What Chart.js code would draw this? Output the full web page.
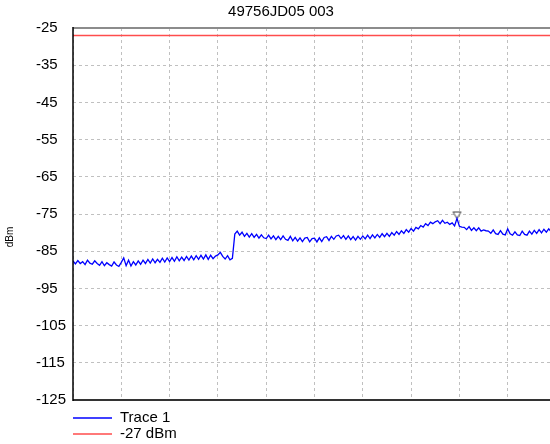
<!DOCTYPE html>
<html>
<head>
<meta charset="utf-8">
<title>49756JD05 003</title>
<script src="https://cdn.jsdelivr.net/npm/chart.js@4/dist/chart.umd.min.js"></script>
<style>
  html, body { margin: 0; padding: 0; background: #fff; overflow: hidden; }
  #wrap { width: 565px; height: 444px; }
</style>
</head>
<body>
<div id="wrap"><canvas id="chart" width="565" height="444"></canvas></div>
<script>
const chartTitle = '49756JD05 003'
const yLabel = 'dBm'
const yMin = -125
const yMax = -25
const yStep = 10
// x axis: 10 divisions, no frequency labels shown on the plot
const xMax = 1000
const xStep = 100
const traceStep = 5

// Trace 1 levels (dBm), one every 5 x units
const trace = [
  -87.6, -88.4, -87.5, -88.3, -87.8, -88.6, -87.4, -88.2, -88.5, -87.6,
  -88.3, -88.8, -87.8, -88.9, -88.1, -88.6, -89.0, -87.9, -88.7, -89.1,
  -88.0, -86.8, -88.9, -87.4, -89.0, -87.8, -88.7, -87.6, -88.5, -87.4,
  -88.3, -87.2, -88.2, -87.1, -88.1, -87.2, -88.0, -86.9, -87.9, -86.8,
  -87.8, -86.7, -87.7, -86.5, -87.6, -86.6, -87.5, -86.4, -87.4, -86.3,
  -87.3, -86.2, -87.2, -86.1, -87.1, -86.0, -87.2, -86.1, -87.0, -86.3,
  -86.0, -85.3, -86.4, -87.1, -86.2, -87.3, -86.9, -80.4, -79.6, -80.7,
  -79.9, -81.0, -80.2, -81.2, -80.3, -81.3, -80.5, -81.5, -80.6, -81.4,
  -81.6, -80.7, -81.7, -80.9, -81.9, -81.0, -81.9, -80.9, -81.8, -82.1,
  -81.0, -82.2, -81.3, -82.3, -81.4, -82.4, -81.5, -81.3, -82.5, -81.6,
  -81.5, -82.5, -81.4, -82.4, -81.3, -81.1, -82.1, -81.0, -81.8, -80.9,
  -80.7, -81.6, -80.8, -81.8, -80.9, -81.9, -81.1, -82.0, -81.0, -81.8,
  -80.9, -81.7, -80.7, -81.6, -80.6, -81.4, -80.5, -81.3, -80.3, -81.1,
  -80.2, -81.0, -80.0, -80.7, -79.7, -80.5, -79.5, -80.2, -79.2, -79.9,
  -78.9, -79.6, -78.6, -79.0, -78.1, -78.5, -77.6, -78.1, -77.2, -77.6,
  -77.1, -76.8, -77.6, -76.7, -77.5, -77.2, -77.8, -77.4, -78.2, -76.2,
  -78.3, -78.5, -78.6, -79.2, -78.4, -79.4, -78.7, -79.5, -78.7, -79.6,
  -79.3, -79.5, -79.6, -80.2, -79.3, -80.3, -80.5, -79.5, -80.4, -80.6,
  -79.0, -80.3, -80.7, -79.8, -80.6, -80.8, -79.6, -80.5, -80.7, -79.6,
  -80.4, -79.4, -80.2, -79.2, -80.1, -79.1, -79.9, -79.0, -79.8, -79.1,
  -79.6
]
const limitLevel = -27
const markerIndex = 159

const seriesLabels = ['Trace 1', '-27 dBm']

Chart.defaults.font.family = '"Liberation Sans", Arial, sans-serif'
Chart.defaults.color = '#000'

// hollow down-pointing marker; tip sits at the centre of the image
const markerImg = document.createElement('canvas')
markerImg.width = 11
markerImg.height = 16
const mctx = markerImg.getContext('2d')
mctx.strokeStyle = '#404040'
mctx.lineWidth = 1
mctx.beginPath()
mctx.moveTo(1.5, 1.5)
mctx.lineTo(9.5, 1.5)
mctx.lineTo(5.5, 8)
mctx.closePath()
mctx.fillStyle = '#fff'
mctx.fill()
mctx.stroke()

const framePlugin = {
  id: 'frame',
  afterDatasetsDraw(chart) {
    const { ctx, chartArea: a } = chart
    ctx.save()
    ctx.lineWidth = 2
    ctx.strokeStyle = '#8c8c8c'
    ctx.beginPath(); ctx.moveTo(a.left, a.top); ctx.lineTo(a.right, a.top); ctx.stroke()
    ctx.strokeStyle = '#333'
    ctx.beginPath(); ctx.moveTo(a.left, a.bottom); ctx.lineTo(a.right, a.bottom); ctx.stroke()
    ctx.lineWidth = 1.5
    ctx.strokeStyle = '#000'
    ctx.beginPath(); ctx.moveTo(a.left, a.top - 1); ctx.lineTo(a.left, a.bottom + 1); ctx.stroke()
    ctx.restore()
  }
}

// title, stacked legend under the plot and the small rotated axis label
const textPlugin = {
  id: 'texts',
  afterDraw(chart) {
    const { ctx, chartArea: a } = chart
    ctx.save()
    ctx.fillStyle = '#000'
    ctx.font = '15px "Liberation Sans", Arial, sans-serif'
    ctx.textBaseline = 'middle'
    ctx.textAlign = 'center'
    ctx.fillText(chartTitle, 281, 12)

    ctx.textAlign = 'left'
    seriesLabels.forEach((label, i) => {
      const y = a.bottom + 18 + i * 16
      ctx.strokeStyle = chart.data.datasets[i].borderColor
      ctx.lineWidth = 1.5
      ctx.beginPath(); ctx.moveTo(a.left, y); ctx.lineTo(a.left + 39, y); ctx.stroke()
      ctx.fillText(label, a.left + 47, y)
    })

    ctx.translate(10, (a.top + a.bottom) / 2 + 23)
    ctx.rotate(-Math.PI / 2)
    ctx.font = '10px "Liberation Sans", Arial, sans-serif'
    ctx.textAlign = 'center'
    ctx.fillText(yLabel, 0, 0)
    ctx.restore()
  }
}

const ctx = document.getElementById('chart').getContext('2d')
new Chart(ctx, {
  type: 'line',
  data: {
    datasets: [{
      label: seriesLabels[0],
      data: trace.map((v, i) => ({ x: i * traceStep, y: v })),
      borderColor: '#0000ff',
      borderWidth: 1.3,
      pointRadius: 0,
      tension: 0
    }, {
      label: seriesLabels[1],
      data: [{ x: 0, y: limitLevel }, { x: xMax, y: limitLevel }],
      borderColor: '#ff4c4c',
      borderWidth: 1.5,
      pointRadius: 0
    }, {
      label: 'marker',
      data: [{ x: markerIndex * traceStep, y: trace[markerIndex] }],
      showLine: false,
      pointStyle: markerImg,
      pointRadius: 8
    }]
  },
  options: {
    responsive: false,
    animation: false,
    layout: { padding: { left: 36, right: 0, top: 28, bottom: 44 } },
    plugins: {
      legend: { display: false },
      tooltip: { enabled: false },
      title: { display: false }
    },
    scales: {
      x: {
        type: 'linear',
        min: 0,
        max: xMax,
        ticks: { display: false, stepSize: xStep },
        grid: { color: '#c0c0c0', drawTicks: false },
        border: { display: false, dash: [3, 3] }
      },
      y: {
        min: yMin,
        max: yMax,
        ticks: { stepSize: yStep, crossAlign: 'far', color: '#000', font: { size: 15 } },
        grid: { color: '#c0c0c0', drawTicks: false },
        border: { display: false, dash: [3, 3] },
        afterFit(scale) { scale.width = 37 }
      }
    }
  },
  plugins: [framePlugin, textPlugin]
})
</script>
</body>
</html>
